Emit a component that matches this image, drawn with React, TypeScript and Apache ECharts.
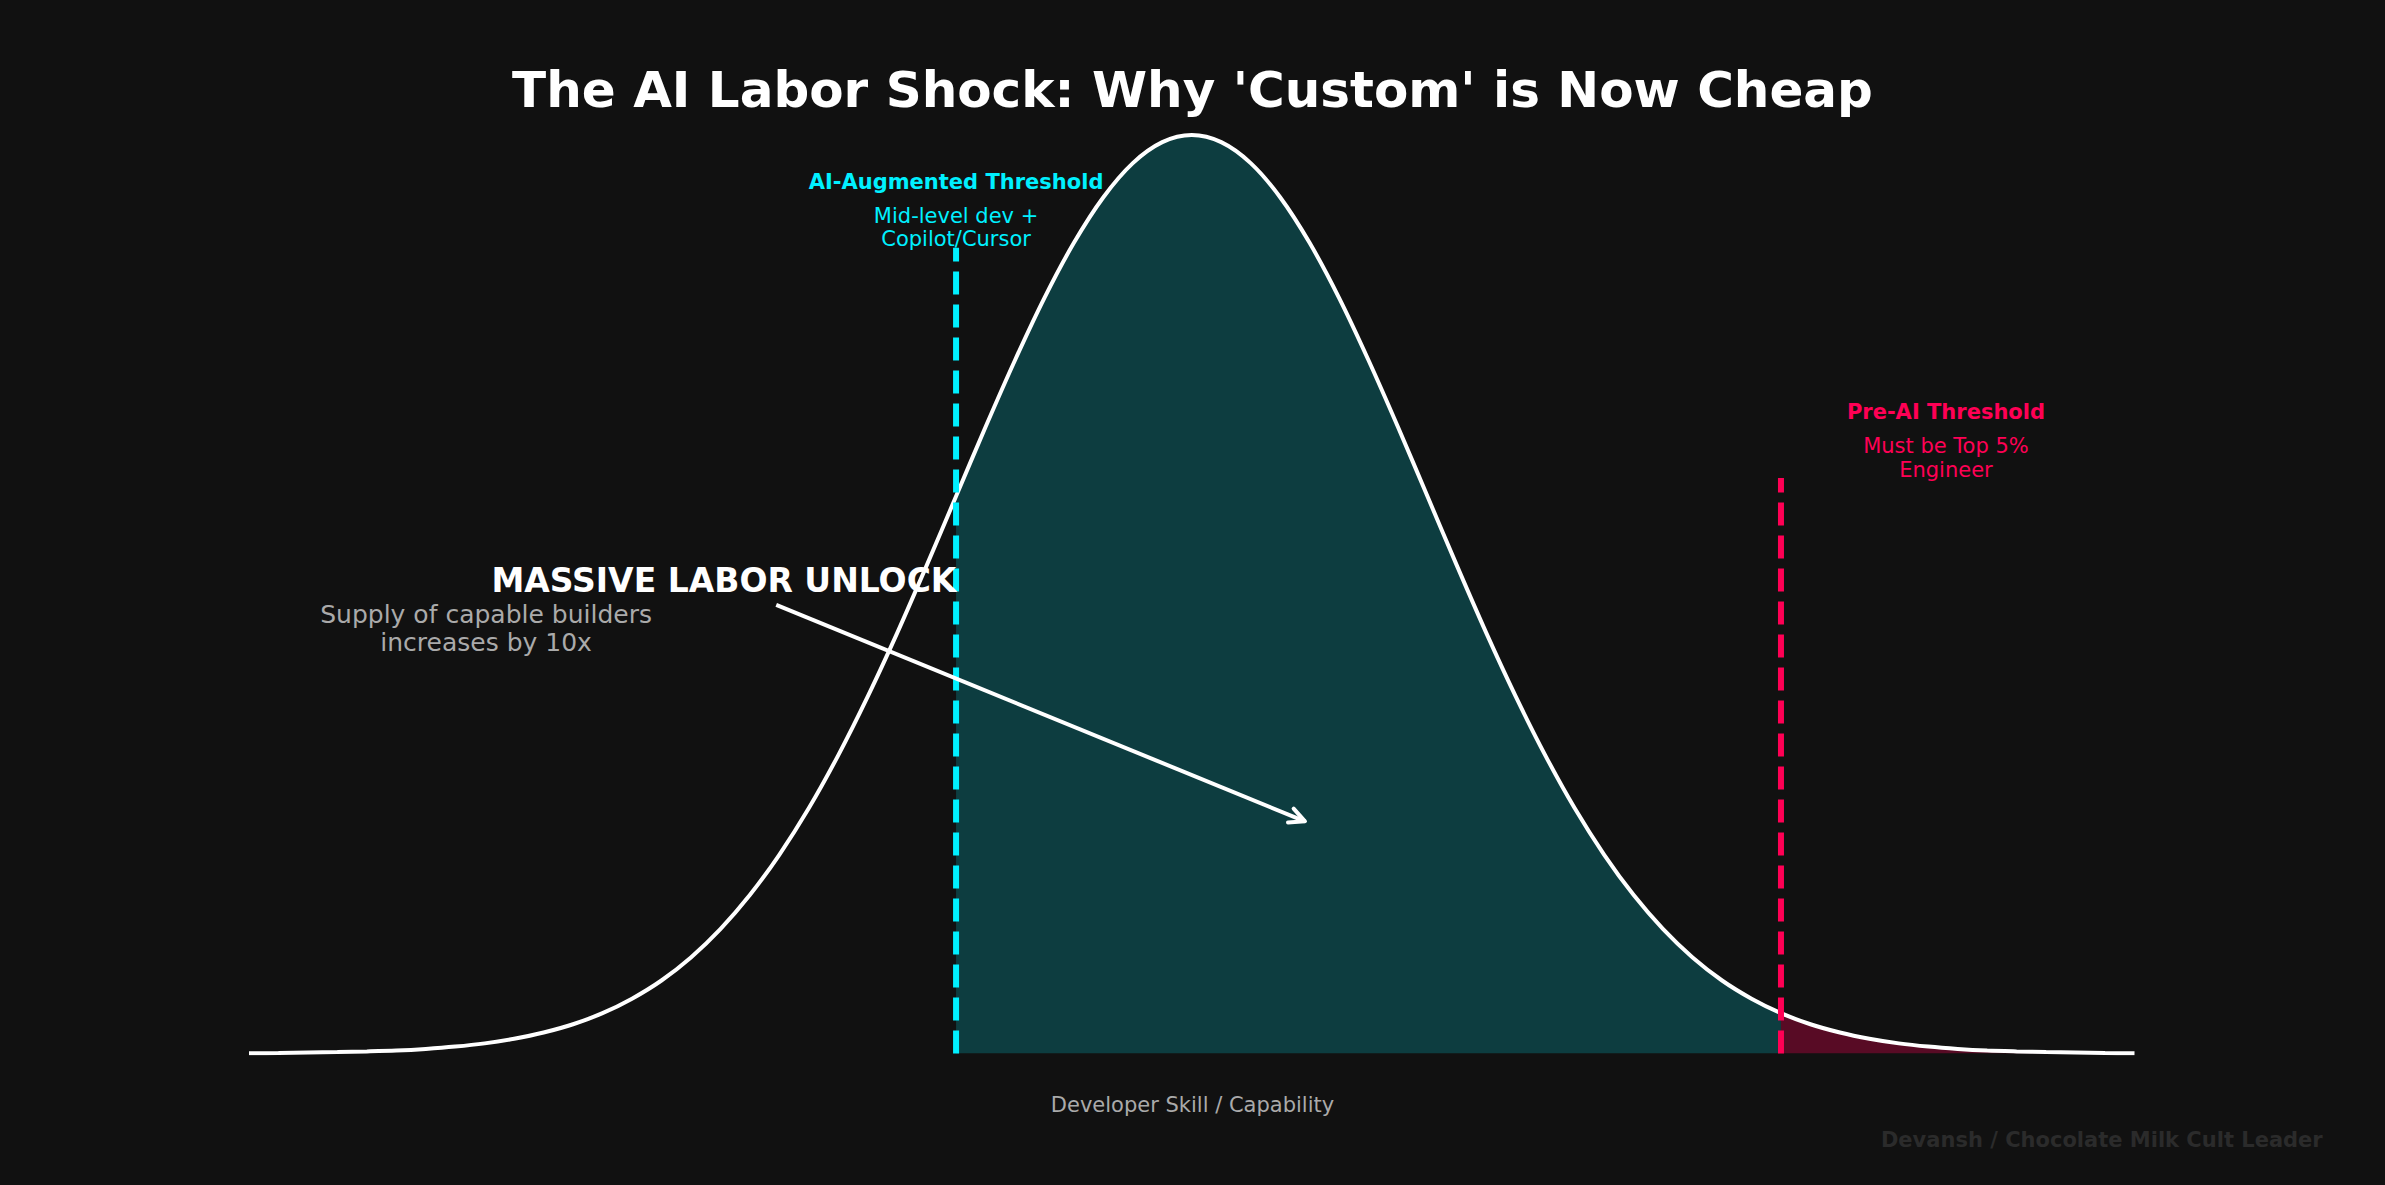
import React, { useEffect, useRef } from "react";
import * as echarts from "echarts";

// Developer skill (standard deviations) and relative supply density
const skillX = [
  -4, -3.875, -3.75, -3.625, -3.5, -3.375, -3.25, -3.125, -3, -2.875, -2.75, -2.625, -2.5, -2.375, -2.25, -2.125,
  -2, -1.875, -1.75, -1.625, -1.5, -1.375, -1.25, -1.125, -1, -0.875, -0.75, -0.625, -0.5, -0.375, -0.25, -0.125,
  0, 0.125, 0.25, 0.375, 0.5, 0.625, 0.75, 0.875, 1, 1.125, 1.25, 1.375, 1.5, 1.625, 1.75, 1.875,
  2, 2.125, 2.25, 2.375, 2.5, 2.625, 2.75, 2.875, 3, 3.125, 3.25, 3.375, 3.5, 3.625, 3.75, 3.875, 4,
];
const density = [
  0.0001, 0.0002, 0.0004, 0.0006, 0.0009, 0.0013, 0.002, 0.003, 0.0044, 0.0064, 0.0091, 0.0127, 0.0175, 0.0238, 0.0317, 0.0417,
  0.054, 0.0688, 0.0863, 0.1065, 0.1295, 0.155, 0.1826, 0.2119, 0.242, 0.2721, 0.3011, 0.3282, 0.3521, 0.3719, 0.3867, 0.3958,
  0.3989, 0.3958, 0.3867, 0.3719, 0.3521, 0.3282, 0.3011, 0.2721, 0.242, 0.2119, 0.1826, 0.155, 0.1295, 0.1065, 0.0863, 0.0688,
  0.054, 0.0417, 0.0317, 0.0238, 0.0175, 0.0127, 0.0091, 0.0064, 0.0044, 0.003, 0.002, 0.0013, 0.0009, 0.0006, 0.0004, 0.0002, 0.0001,
];

// Thresholds
const aiThreshold = -1;
const aiLineTop = 0.35;
const preAiThreshold = 2.5;
const preAiLineTop = 0.25;

// Annotation anchors (data coordinates)
const aiTitlePos = [-1, 0.379];
const aiSubPos = [-1, 0.359];
const preAiTitlePos = [3.2, 0.279];
const preAiSubPos = [3.2, 0.259];
const unlockTitlePos = [-1.985, 0.2057];
const unlockSubPos = [-2.994, 0.185];
const arrowFrom = [-1.763, 0.1948];
const arrowTo = [0.5, 0.1];

const titleText = "The AI Labor Shock: Why 'Custom' is Now Cheap";
const xLabelText = "Developer Skill / Capability";
const watermarkText = "Devansh / Chocolate Milk Cult Leader";

const FONT = "'DejaVu Sans', sans-serif";
const CYAN = "#00F0FF";
const RED = "#FF0055";
const BG = "#111111";

export default function App() {
  const ref = useRef<HTMLDivElement>(null);
  useEffect(() => {
    document.body.style.margin = "0";
    document.body.style.background = BG;
    const chart = echarts.init(ref.current!, null, { renderer: "svg" });
    const pts = skillX.map((x, i) => [x, density[i]]);
    const teal = pts.filter((p) => p[0] >= aiThreshold && p[0] <= preAiThreshold);
    const tail = pts.filter((p) => p[0] >= preAiThreshold);
    chart.setOption({
      animation: false,
      backgroundColor: BG,
      grid: { left: 249, right: 250.5, top: 132.5, bottom: 131.5 },
      xAxis: { type: "value", min: -4, max: 4, show: false },
      yAxis: { type: "value", min: 0, max: 0.4, show: false },
      series: [
        {
          type: "line", data: teal, smooth: 0.3, symbol: "none", showSymbol: false,
          lineStyle: { width: 0 }, areaStyle: { color: CYAN, opacity: 0.2 }, z: 1, silent: true,
        },
        {
          type: "line", data: tail, smooth: 0.3, symbol: "none", showSymbol: false,
          lineStyle: { width: 0 }, areaStyle: { color: RED, opacity: 0.3 }, z: 1, silent: true,
        },
        {
          type: "line", data: pts, smooth: 0.3, symbol: "none", showSymbol: false,
          lineStyle: { color: "#ffffff", width: 4 }, z: 2, silent: true,
        },
        {
          type: "line", data: [[aiThreshold, 0], [aiThreshold, aiLineTop]], symbol: "none", showSymbol: false,
          lineStyle: { color: CYAN, width: 6, type: [23, 10] }, z: 3, silent: true,
        },
        {
          type: "line", data: [[preAiThreshold, 0], [preAiThreshold, preAiLineTop]], symbol: "none", showSymbol: false,
          lineStyle: { color: RED, width: 6, type: [23, 10] }, z: 3, silent: true,
        },
      ],
    });

    const px = (p: number[]) => chart.convertToPixel({ gridIndex: 0 }, p) as number[];
    const a = px(aiTitlePos), as = px(aiSubPos), p = px(preAiTitlePos), ps = px(preAiSubPos);
    const u = px(unlockTitlePos), us = px(unlockSubPos);
    const s = px(arrowFrom), e = px(arrowTo);
    const dx = e[0] - s[0], dy = e[1] - s[1];
    const len = Math.hypot(dx, dy);
    const ux = dx / len, uy = dy / len;
    const tip = [e[0] - ux * 5, e[1] - uy * 5];
    const wing = (ang: number) => {
      const c = Math.cos(ang), sn = Math.sin(ang);
      const bx = -ux, by = -uy;
      return [tip[0] + 17 * (bx * c - by * sn), tip[1] + 17 * (bx * sn + by * c)];
    };
    const ang = (26 * Math.PI) / 180;

    const txt = (x: number, y: number, text: string, size: number, color: string, bold: boolean, align = "center", lh?: number) => ({
      type: "text", x, y: y + 0.75 + size * 0.01, silent: true, z: 10,
      style: {
        text, fill: color, fontSize: size, fontFamily: FONT, fontWeight: bold ? "bold" : "normal",
        align, verticalAlign: "middle", lineHeight: lh ?? Math.round(size * 1.15),
      },
    });

    chart.setOption({
      graphic: [
        txt(1192.5, 89, titleText, 50, "#ffffff", true),
        txt(a[0], a[1], "AI-Augmented Threshold", 21, CYAN, true),
        txt(as[0], as[1], "Mid-level dev +\nCopilot/Cursor", 21, CYAN, false, "center", 23),
        txt(p[0], p[1], "Pre-AI Threshold", 21, RED, true),
        txt(ps[0], ps[1], "Must be Top 5%\nEngineer", 21, RED, false, "center", 23.4),
        txt(u[0], u[1], "MASSIVE LABOR UNLOCK", 33, "#ffffff", true),
        txt(us[0], us[1], "Supply of capable builders\nincreases by 10x", 25, "#aaaaaa", false, "center", 28.3),
        txt(1192.5, 1104, xLabelText, 21, "#aaaaaa", false),
        txt(2322.7, 1139, watermarkText, 21, "#2b2b2b", true, "right"),
        {
          type: "polyline", silent: true, z: 9,
          shape: { points: [s, tip] },
          style: { stroke: "#ffffff", lineWidth: 4, fill: null },
        },
        {
          type: "polyline", silent: true, z: 9,
          shape: { points: [wing(ang), tip, wing(-ang)] },
          style: { stroke: "#ffffff", lineWidth: 4, fill: null, lineJoin: "round", lineCap: "round" },
        },
      ],
    });
    return () => chart.dispose();
  }, []);
  return <div ref={ref} style={{ width: 2385, height: 1185 }} />;
}
